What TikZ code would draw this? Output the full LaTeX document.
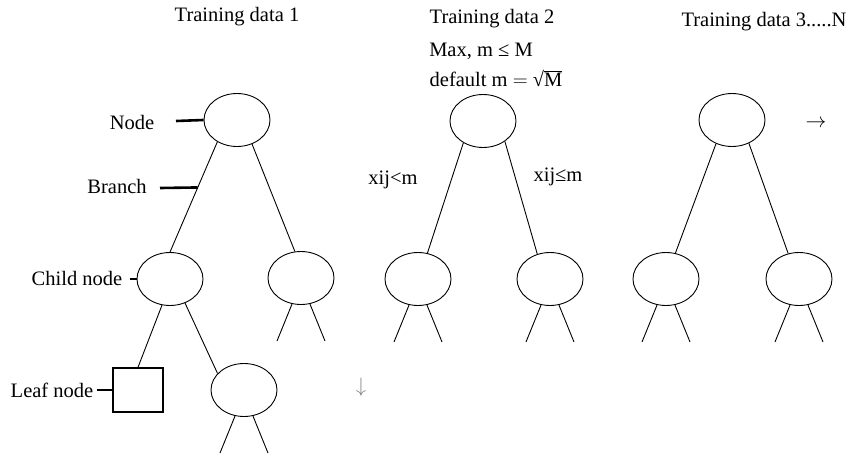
\documentclass[tikz,border=0pt]{standalone}
\usepackage{fontspec}
\setmainfont{Liberation Serif}
\usetikzlibrary{shapes.geometric}
\newcommand\mylegs[1]{%
  \coordinate (#1-la) at ([shift={(-24,63)}]#1.center);
  \coordinate (#1-lb) at ([shift={(24,63)}]#1.center);
  \draw[edge] (#1.251) -- (#1-la);
  \draw[edge] (#1.289) -- (#1-lb);}
\begin{document}
\begin{tikzpicture}[x=1pt,y=-1pt,
  every node/.style={font=\fontsize{20.5}{24}\selectfont, inner sep=0pt},
  ell/.style={draw, ellipse, minimum width=66pt, minimum height=53pt, inner sep=0pt, line width=0.9pt},
  leaf/.style={draw, rectangle, minimum width=50pt, minimum height=44pt, line width=1.4pt},
  edge/.style={line width=0.9pt},
  tick/.style={line width=2.6pt},
  lbl/.style={text=black}]
\useasboundingbox (0,0) rectangle (855,455);

% titles
\node[lbl] (t1) at (237,17) {Training data 1};
\node[lbl] (t2) at (492,19) {Training data 2};
\node[lbl] (t3) at (764,22) {Training data 3.....N};
\node[lbl] (mx) at (481,51) {Max, m ≤ M};
\node[lbl] (df) at (496,78) {default m $=$ √$\overline{\mbox{M}}$};

% tree 1
\node[ell] (r1) at (237,120) {};
\node[ell] (c11) at (170,279) {};
\node[ell] (c12) at (301,278) {};
\node[leaf] (lf) at (138,390) {};
\node[ell] (c13) at (244,390) {};
\draw[edge] (r1.228) -- (c11.90);
\draw[edge] (r1.302) -- (c12.103);
\draw[edge] (c11.253) -- (lf.north);
\draw[edge] (c11.302) -- (c13.148);
\mylegs{c12}
\mylegs{c13}

% labels tree 1
\node[lbl] (nl) at (132,122) {Node};
\node[lbl] (bl) at (117,186) {Branch};
\node[lbl] (cl) at (77,278) {Child node};
\node[lbl] (ll) at (52,390) {Leaf node};
\coordinate (nt) at (176,121);
\draw[tick] (nt) -- (r1.west);
\path (r1.228) -- (c11.90) coordinate[pos=0.414] (bp);
\coordinate (bt) at (160,188);
\draw[tick] (bt) -- (bp);
\coordinate (ct) at (130,279);
\draw[tick] (ct) -- (c11.west);
\coordinate (lt) at (97,390);
\draw[tick] (lt) -- (lf.west);

% tree 2
\node[ell] (r2) at (483,121) {};
\node[ell] (c21) at (418,279) {};
\node[ell] (c22) at (550,279) {};
\draw[edge] (r2.228) -- (c21.70);
\draw[edge] (r2.317) -- (c22.117);
\mylegs{c21}
\mylegs{c22}
\node[lbl] (xa) at (393,180) {xij<m};
\node[lbl] (xb) at (558,177) {xij≤m};

% tree 3
\node[ell] (r3) at (732,120) {};
\node[ell] (c31) at (666,279) {};
\node[ell] (c32) at (799,279) {};
\draw[edge] (r3.236) -- (c31.70);
\draw[edge] (r3.306) -- (c32.113);
\mylegs{c31}
\mylegs{c32}

% arrows
\node[lbl] (ar) at (816,124) {$\rightarrow$};
\node[text=gray] (ad) at (361,387) {$\downarrow$};
\end{tikzpicture}
\end{document}
